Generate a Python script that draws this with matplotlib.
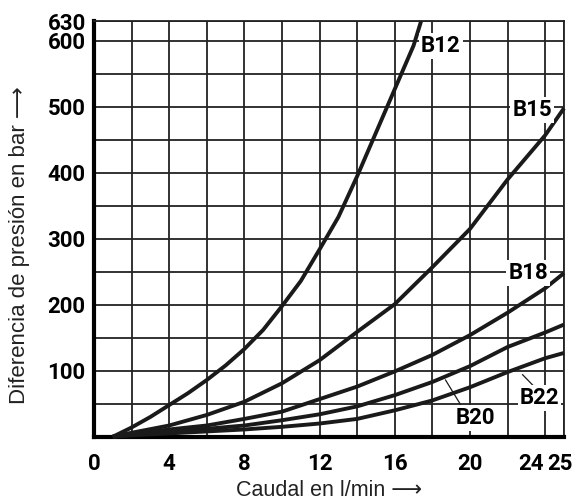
import matplotlib
matplotlib.use("Agg")
import matplotlib.pyplot as plt
import matplotlib.transforms as mtransforms
import numpy as np

# caudal (l/min) y diferencia de presion (bar)
q_b12 = [1, 2, 3, 4, 5, 6, 7, 8, 9, 10, 11, 12, 13, 14, 15, 16, 17, 17.4]
p_b12 = [0, 14, 30, 48, 66, 86, 108, 133, 162, 198, 236, 284, 333, 395, 461, 527, 593, 630]

q_rest = [1, 2, 4, 6, 8, 10, 12, 14, 16, 18, 20, 22, 24, 25]
p_b15 = [0, 6, 17, 33, 53, 81, 116, 159, 201, 257, 315, 390, 457, 498]
p_b18 = [0, 4, 11, 17, 27, 38, 57, 76, 99, 124, 154, 188, 225, 248]
p_b20 = [0, 3, 8, 12, 17, 25, 34, 46, 63, 83, 107, 136, 158, 170]
p_b22 = [0, 2, 5, 8, 11, 15, 20, 27, 40, 55, 75, 98, 119, 127]

x_ticks = [0, 4, 8, 12, 16, 20, 24, 25]
y_ticks = [100, 200, 300, 400, 500, 600, 630]

# etiquetas: texto, posicion, inicio y fin de la linea guia (None = sin guia)
labels = [
    ("B12", (18.45, 593), None),
    ("B15", (23.3, 496), None),
    ("B18", (23.1, 248), None),
    ("B20", (20.3, 28), ((18.7, 86), (19.6, 44))),
    ("B22", (23.7, 58), ((22.8, 94), (23.45, 75))),
]

bold_font = ["Roboto", "DejaVu Sans"]
plt.rcParams["font.family"] = ["Liberation Sans", "DejaVu Sans"]

fig = plt.figure(figsize=(5.82, 5.04), dpi=100)
ax = fig.add_axes([0.1615, 0.1335, 0.8075, 0.8245])

ax.set_xlim(0, 25)
ax.set_ylim(0, 630)

# cuadricula
ax.set_xticks(np.arange(2, 25, 2), minor=True)
ax.set_yticks(np.arange(50, 630, 50), minor=True)
ax.set_xticks(x_ticks)
ax.set_yticks(y_ticks)
ax.grid(which="both", color="#222222", linewidth=1.3, zorder=1)
ax.tick_params(which="both", length=0)

ax.set_xticklabels([str(t) for t in x_ticks], family=bold_font, fontweight="bold", fontsize=16)
ax.set_yticklabels([str(t) for t in y_ticks], family=bold_font, fontweight="bold", fontsize=16)
ax.tick_params(axis="x", pad=12)
ax.tick_params(axis="y", pad=6)

# 24 y 25 estan muy juntos: correr las etiquetas un poco a la izquierda
xt = ax.get_xticklabels()
for lab, dx in [(xt[-2], -14), (xt[-1], -4)]:
    lab.set_transform(lab.get_transform() +
                      mtransforms.ScaledTranslation(dx / 100, 0, fig.dpi_scale_trans))

for side in ["left", "bottom"]:
    ax.spines[side].set_linewidth(3)
for side in ["top", "right"]:
    ax.spines[side].set_linewidth(1.3)
    ax.spines[side].set_color("#222222")

for p in [p_b15, p_b18, p_b20, p_b22]:
    ax.plot(q_rest, p, color="#1a1a1a", linewidth=2.8, zorder=3, clip_on=False,
            solid_capstyle="butt", solid_joinstyle="round")
ax.plot(q_b12, p_b12, color="#1a1a1a", linewidth=2.8, zorder=3, clip_on=False,
        solid_capstyle="butt", solid_joinstyle="round")

for txt, pos, guide in labels:
    if guide is not None:
        ax.plot([guide[0][0], guide[1][0]], [guide[0][1], guide[1][1]],
                color="#1a1a1a", linewidth=0.9, zorder=4)
    ax.text(pos[0], pos[1], txt, family=bold_font, fontweight="bold", fontsize=16,
            ha="center", va="center", zorder=5,
            bbox=dict(facecolor="white", edgecolor="none", pad=1.5))

ax.set_xlabel("Caudal en l/min \u27f6", fontsize=15.5, color="#222222")
ax.xaxis.set_label_coords(0.5, -0.13)
ax.xaxis.label.set_verticalalignment("center")

ax.set_ylabel("Diferencia de presi\u00f3n en bar \u27f6", fontsize=16, color="#222222")
ax.yaxis.set_label_coords(-0.158, 0.461)
ax.yaxis.label.set_verticalalignment("center")

fig.savefig("out.png", dpi=100)
